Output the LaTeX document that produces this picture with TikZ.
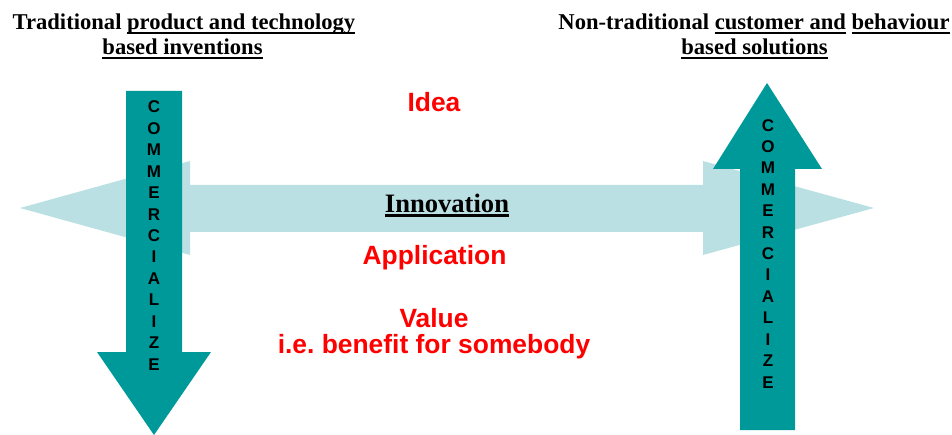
\documentclass[tikz,border=0pt]{standalone}
\usepackage{fontspec}
\setmainfont{Liberation Serif}
\setsansfont{Liberation Sans}

\definecolor{paleblue}{RGB}{186,224,227}
\definecolor{arrowteal}{RGB}{0,153,153}
\definecolor{stagered}{RGB}{255,0,0}

% underline at a fixed depth below the baseline: #1 = lower edge, #2 = thickness
\newcommand{\lineunder}[3]{\setbox0=\hbox{#3}\rlap{\rule[-#1]{\wd0}{#2}}\box0\relax}

\begin{document}
\begin{tikzpicture}[x=1pt,y=-1pt,
  title/.style={anchor=base,inner sep=0pt,font=\fontsize{22.6}{25}\selectfont\bfseries},
  stage/.style={anchor=base,inner sep=0pt,text=stagered,font=\fontsize{26.4}{30}\selectfont\sffamily\bfseries},
  letter/.style={anchor=base,inner sep=0pt,font=\fontsize{17}{18}\selectfont\sffamily\bfseries},
  keyword/.style={anchor=base,inner sep=0pt,font=\fontsize{26.6}{30}\selectfont\bfseries},
]
\useasboundingbox (0,0) rectangle (952,435);

% double-headed innovation arrow
\fill[paleblue] (20,208) -- (190,161) -- (190,185) -- (703,185) -- (703,161)
  -- (874,208) -- (703,255) -- (703,232) -- (190,232) -- (190,255) -- cycle;

% downward commercialize arrow
\fill[arrowteal] (126,91) -- (182,91) -- (182,352) -- (211,352) -- (154,435)
  -- (97,352) -- (126,352) -- cycle;

% upward commercialize arrow
\fill[arrowteal] (767,83) -- (822,169) -- (795,169) -- (795,430) -- (740,430)
  -- (740,169) -- (713,169) -- cycle;

% stacked letters on both vertical arrows
\foreach \ch [count=\i from 0] in {C,O,M,M,E,R,C,I,A,L,I,Z,E} {
  \node[letter] (down\i) at (154,112.8+21.45*\i) {\ch};
  \node[letter] (up\i) at (768,131.2+21.4*\i) {\ch};
}

% headings
\node[title] (tradA) at (184,30) {Traditional \lineunder{4.2pt}{2.2pt}{product and technology}};
\node[title] (tradB) at (182.5,55) {\lineunder{4.2pt}{2.2pt}{based inventions}};
\node[title] (nonA) at (754,30) {Non-traditional \lineunder{4.2pt}{2.2pt}{customer and} \lineunder{4.2pt}{2.2pt}{behaviour}};
\node[title] (nonB) at (754.5,55) {\lineunder{4.2pt}{2.2pt}{based solutions}};

\node[keyword] (innov) at (447,213) {\lineunder{3.9pt}{2.6pt}{Innovation}};

% stages
\node[stage] (idea) at (434,112) {Idea};
\node[stage] (app) at (434.5,265) {Application};
\node[stage] (value) at (434,327) {Value};
\node[stage] (benefit) at (434,353) {i.e.\ benefit for somebody};
\end{tikzpicture}
\end{document}
